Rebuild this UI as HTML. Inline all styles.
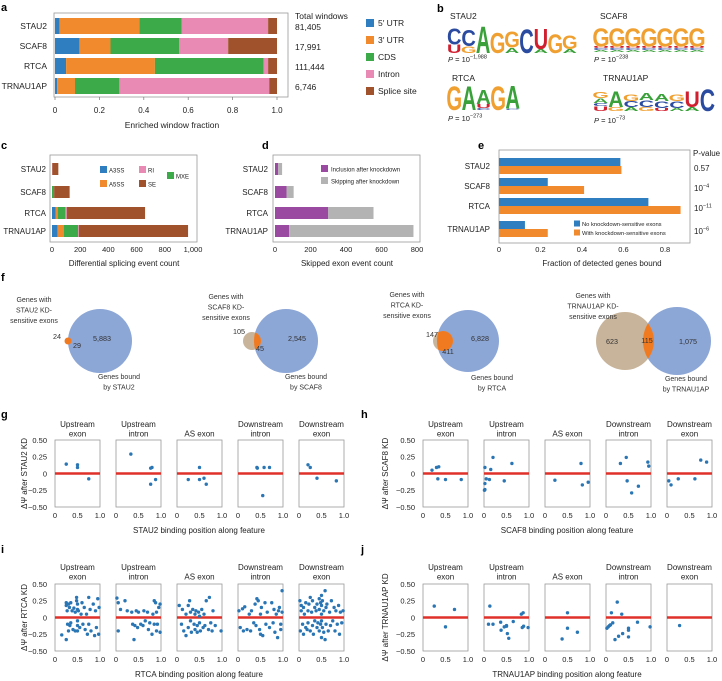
<!DOCTYPE html>
<html><head><meta charset="utf-8"><style>
body{margin:0;background:#fff;}
svg{display:block;font-family:"Liberation Sans",sans-serif;}
</style></head><body>
<svg id="fig" width="722" height="681" viewBox="0 0 722 681" xmlns="http://www.w3.org/2000/svg"></svg>
<script>
// ---------- DATA ----------
const cats=['STAU2','SCAF8','RTCA','TRNAU1AP'];
const aTotals=['81,405','17,991','111,444','6,746'];
const a5utr=[0.02,0.11,0.05,0.01];
const a3utr=[0.36,0.14,0.40,0.08];
const aCds=[0.19,0.31,0.49,0.20];
const aIntron=[0.39,0.22,0.02,0.675];
const aSplice=[0.04,0.22,0.04,0.035];
const aTicks=['0','0.2','0.4','0.6','0.8','1.0'];
const cA3ss=[0,0,25,40];
const cA5ss=[0,0,15,45];
const cMxe=[0,15,55,100];
const cRi=[2,0,10,5];
const cSe=[43,110,555,775];
const cTicks=[0,200,400,600,800,1000];
const dIncl=[18,65,300,80];
const dSkip=[22,40,255,700];
const dTicks=[0,200,400,600,800];
const eNo=[0.585,0.235,0.72,0.125];
const eWith=[0.59,0.41,0.875,0.235];
const eTicks=[0,0.2,0.4,0.6,0.8];
const ePvals=[['0.57',''],['10','−4'],['10','−11'],['10','−6']];
const gData=[
 [[0.25,0.14],[0.5,0.13],[0.5,0.09],[0.75,-0.08]],
 [[0.33,0.29],[0.77,0.08],[0.8,0.09],[0.77,-0.16],[0.88,-0.09]],
 [[0.25,-0.09],[0.5,0.09],[0.5,-0.09],[0.6,-0.07],[0.65,-0.16]],
 [[0.42,0.09],[0.43,0.08],[0.58,0.09],[0.7,0.09],[0.55,-0.33]],
 [[0.2,0.13],[0.25,0.09],[0.4,-0.07],[0.83,-0.11]]];
const hData=[
 [[0.2,0.05],[0.3,0.09],[0.35,0.1],[0.33,-0.08],[0.5,-0.09],[0.85,-0.09]],
 [[0.02,0.09],[0.02,-0.15],[0.02,-0.24],[0.01,-0.25],[0.05,-0.08],[0.12,-0.09],[0.15,0.06],[0.2,0.24],[0.45,-0.11],[0.62,0.15]],
 [[0.22,-0.1],[0.8,0.15],[0.83,-0.17],[0.96,-0.13]],
 [[0.32,0.15],[0.45,0.24],[0.47,-0.11],[0.57,-0.29],[0.72,-0.19],[0.93,0.17],[0.95,0.11]],
 [[0.04,-0.11],[0.09,-0.17],[0.25,-0.08],[0.62,-0.08],[0.75,0.2],[0.88,0.17]]];
const iData=[
 [[0.15,-0.26],[0.25,-0.33],[0.25,0.22],[0.25,0.18],[0.27,0.1],[0.28,-0.1],[0.3,0.2],[0.3,-0.2],[0.32,0.15],[0.33,-0.12],[0.35,0.22],[0.35,-0.08],[0.38,0.1],[0.4,-0.18],[0.42,0.14],[0.45,0.08],[0.45,-0.2],[0.48,0.3],[0.48,0.25],[0.5,0.2],[0.5,0.12],[0.5,-0.05],[0.5,-0.12],[0.5,-0.2],[0.52,0.1],[0.55,-0.15],[0.58,0.05],[0.6,0.22],[0.62,-0.1],[0.65,0.15],[0.67,-0.18],[0.7,0.05],[0.72,-0.25],[0.75,0.3],[0.75,-0.1],[0.78,0.12],[0.8,-0.2],[0.85,0.2],[0.88,-0.27],[0.9,0.1],[0.92,-0.15],[0.95,0.28],[0.97,-0.25],[0.98,0.15]],
 [[0.02,0.29],[0.05,0.22],[0.05,-0.2],[0.1,0.12],[0.2,0.25],[0.25,0.1],[0.35,0.08],[0.37,-0.1],[0.4,-0.33],[0.42,-0.12],[0.45,0.1],[0.48,-0.15],[0.5,0.08],[0.55,-0.1],[0.6,-0.12],[0.62,0.1],[0.65,-0.05],[0.7,0.08],[0.72,-0.18],[0.75,-0.08],[0.8,-0.25],[0.82,0.05],[0.85,0.25],[0.85,-0.1],[0.88,0.22],[0.9,0.08],[0.9,-0.2],[0.92,-0.1],[0.95,0.15],[0.98,0.2],[0.98,-0.22]],
 [[0.05,0.18],[0.1,-0.1],[0.12,0.12],[0.15,-0.2],[0.2,0.05],[0.2,-0.27],[0.25,0.18],[0.25,-0.15],[0.28,0.25],[0.3,0.08],[0.3,-0.05],[0.32,-0.22],[0.35,0.12],[0.38,-0.1],[0.4,0.05],[0.4,-0.18],[0.42,0.1],[0.45,-0.12],[0.45,-0.22],[0.48,0.08],[0.5,0.02],[0.5,-0.08],[0.52,-0.2],[0.55,0.12],[0.58,-0.15],[0.6,0.05],[0.62,-0.12],[0.65,0.25],[0.7,-0.18],[0.72,0.3],[0.75,-0.08],[0.78,-0.2],[0.8,0.1],[0.85,-0.12],[0.98,-0.2]],
 [[0.02,0.1],[0.05,-0.15],[0.1,0.13],[0.12,-0.2],[0.15,0.16],[0.2,-0.18],[0.25,0.05],[0.28,-0.2],[0.3,0.1],[0.35,-0.08],[0.38,0.2],[0.4,-0.12],[0.42,0.28],[0.45,0.25],[0.48,-0.18],[0.5,0.05],[0.5,-0.25],[0.52,0.15],[0.55,-0.27],[0.6,0.22],[0.62,-0.1],[0.65,0.08],[0.7,-0.15],[0.75,0.22],[0.78,-0.08],[0.8,0.12],[0.82,-0.22],[0.85,0.05],[0.88,-0.3],[0.9,0.1],[0.92,0.15],[0.95,-0.1],[0.98,0.4],[0.98,0.08],[0.95,-0.18]],
 [[0.02,0.25],[0.03,-0.2],[0.05,0.1],[0.05,0.18],[0.08,-0.1],[0.1,0.15],[0.1,-0.25],[0.12,0.05],[0.15,-0.15],[0.15,0.22],[0.18,-0.18],[0.2,0.1],[0.2,-0.08],[0.22,0.2],[0.25,-0.2],[0.25,0.3],[0.28,0.08],[0.3,-0.12],[0.3,0.25],[0.32,-0.25],[0.35,0.15],[0.35,-0.05],[0.38,0.1],[0.4,-0.15],[0.4,0.2],[0.42,-0.08],[0.45,0.28],[0.45,0.12],[0.45,-0.2],[0.48,0.22],[0.48,-0.1],[0.5,0.33],[0.5,0.18],[0.5,0.05],[0.5,-0.05],[0.5,-0.3],[0.52,0.25],[0.52,-0.15],[0.55,0.1],[0.55,-0.22],[0.58,0.4],[0.58,-0.33],[0.6,0.15],[0.6,-0.1],[0.62,0.2],[0.65,-0.2],[0.68,0.08],[0.7,-0.12],[0.72,0.25],[0.75,-0.05],[0.78,0.15],[0.8,-0.2],[0.82,0.1],[0.85,-0.1],[0.88,0.18],[0.9,-0.25],[0.92,0.08],[0.95,-0.08],[0.98,0.1]]];
const jData=[
 [[0.25,0.17],[0.7,0.12],[0.5,-0.14]],
 [[0.13,0.17],[0.1,-0.1],[0.2,-0.1],[0.37,-0.07],[0.38,-0.19],[0.45,-0.14],[0.5,-0.12],[0.52,-0.24],[0.55,-0.31],[0.65,-0.06],[0.5,-0.13],[0.83,0.05],[0.87,0.07],[0.85,-0.15],[0.88,-0.13],[0.98,-0.15]],
 [[0.5,0.07],[0.38,-0.32],[0.5,-0.16],[0.72,-0.22]],
 [[0.02,-0.16],[0.05,-0.14],[0.1,-0.11],[0.12,0.07],[0.15,-0.08],[0.2,-0.33],[0.25,0.23],[0.28,-0.28],[0.35,0.05],[0.37,-0.24],[0.5,-0.16],[0.5,-0.19],[0.5,-0.29],[0.7,-0.07],[0.98,-0.14],[0.08,-0.12]],
 [[0.28,-0.12]]];
const featTitles=[['Upstream','exon'],['Upstream','intron'],['','AS exon'],['Downstream','intron'],['Downstream','exon']];
const yTickVals=[0.5,0.25,0,-0.25,-0.5];
const yTickLabels=['0.50','0.25','0','−0.25','−0.50'];
const xTickVals=[0,0.5,1];
const xTickLabels=['0','0.5','1.0'];

// ---------- HELPERS ----------
const NS='http://www.w3.org/2000/svg';
const svg=document.getElementById('fig');
function mk(tag,attrs,parent){const e=document.createElementNS(NS,tag);for(const k in attrs)e.setAttribute(k,attrs[k]);(parent||svg).appendChild(e);return e;}
function T(x,y,s,size,anchor,extra){const e=mk('text',Object.assign({x:x,y:y,'font-size':size||8,'text-anchor':anchor||'start',fill:'#222'},extra||{}));e.textContent=s;return e;}
const C5='#2f7ec0',C3='#f08a2c',CG='#3caa48',CP='#e88ab4',CB='#a0522d';
let el;

// panel letters
[['a',1,11],['b',437,12],['c',1,149],['d',262,149],['e',478,149],['f',1,281],['g',1,418],['h',361,418],['i',1,553],['j',361,553]].forEach(p=>{
  el=T(p[1],p[2],p[0],11,'start',{'font-weight':'bold',fill:'#000'});
  
  
});

// ---------- PANEL A ----------
const xA=v=>55+v*222;
const aRowY=[26,46,66,86];
el=mk('rect',{x:54,y:13,width:234,height:84,fill:'none',stroke:'#9a9a9a','stroke-width':0.8});


const aSeries=[a5utr,a3utr,aCds,aIntron,aSplice];
const aColors=[C5,C3,CG,CP,CB];
const aNames=["5′ UTR","3′ UTR","CDS","Intron","Splice site"];
cats.forEach((c,i)=>{
  let cum=0;
  aSeries.forEach((s,k)=>{
    el=mk('rect',{x:xA(cum),y:aRowY[i]-8,width:Math.max(0,xA(cum+s[i])-xA(cum)),height:16,fill:aColors[k]});
    
    
    cum+=s[i];
  });
  el=T(47,aRowY[i]+3,c,8.5,'end');
  
  
  el=T(295,aRowY[i]+4,aTotals[i],8.5);
  
  
});
el=T(295,19,'Total windows',8.5);


aTicks.forEach(t=>{
  el=mk('line',{x1:xA(+t),x2:xA(+t),y1:97,y2:100,stroke:'#777','stroke-width':0.7});
  
  
  el=T(xA(+t),113,t,8,'middle');
  
  
});
el=T(172,128,'Enriched window fraction',8.5,'middle');


aNames.forEach((n,k)=>{
  const y=23+k*17;
  el=mk('rect',{x:366,y:y-4,width:8,height:8,fill:aColors[k]});
  
  
  el=T(378,y+3,n,8.5);
  
  
});

// ---------- PANEL B (logos) ----------
const LC={A:'#3aa13a',C:'#2a4ba0',G:'#f0a030',U:'#d02030'};
const stau2Logo=[[['U',.3],['C',.6]],[['G',.25],['C',.6]],[['A',1]],[['G',.75]],[['A',.2],['G',.6]],[['C',.9]],[['A',.15],['U',.75]],[['G',.7]],[['A',.15],['G',.5]]];
const scaf8Logo=Array.from({length:7},()=>[['A',.07],['C',.07],['U',.07],['G',.7]]);
const rtcaLogo=[[['G',.92]],[['A',.92]],[['C',.07],['U',.15],['A',.55]],[['G',.92]],[['C',.05],['A',.88]]];
const trnLogo=[[['U',.18],['C',.12],['A',.18],['G',.22]],[['G',.15],['A',.6]],[['A',.15],['C',.22],['G',.25]],[['G',.15],['C',.25],['A',.28]],[['U',.12],['C',.25],['A',.28]],[['A',.12],['C',.25],['G',.25]],[['A',.15],['U',.6]],[['C',.85]]];
function logo(cols,x0,x1,yb,H,name){
  const w=(x1-x0)/cols.length;
  cols.forEach((col,ci)=>{
    let y=yb;
    col.forEach(([L,f])=>{
      const h=f*H;
      const g=mk('g',{transform:`translate(${x0+ci*w+w/2},${y}) scale(${w/7.2},${h/7.3})`});
      
      
      el=T(0,0,L,10,'middle',{'font-weight':'bold',fill:LC[L]});
      g.appendChild(el);
      
      
      y-=h;
    });
  });
}
logo(stau2Logo,447,577,53,28,'stau2-logo');
logo(scaf8Logo,593,705,52,27,'scaf8-logo');
logo(rtcaLogo,447,520,110,27,'rtca-logo');
logo(trnLogo,593,715,111,27,'trnau1ap-logo');
[['STAU2',450,19],['SCAF8',600,19],['RTCA',452,81],['TRNAU1AP',603,81]].forEach(l=>{
  el=T(l[1],l[2],l[0],8.5);
  
  
});
function pText(x,y,exp,name){
  const t=T(x,y,'',7.5);
  
  
  t.innerHTML=`<tspan font-style="italic">P</tspan> = 10<tspan font-size="5.5" dy="-3.5">−${exp}</tspan>`;
}
pText(448,62,'1,988','b-stau2-pvalue');
pText(594,62,'238','b-scaf8-pvalue');
pText(448,121,'273','b-rtca-pvalue');
pText(594,123,'73','b-trnau1ap-pvalue');

// ---------- PANEL C ----------
const rowC=[169,192,213,231];
const xC=v=>52+v*0.141;
el=mk('rect',{x:50,y:155,width:147,height:87,fill:'none',stroke:'#9a9a9a','stroke-width':0.8});


const cSeries=[cA3ss,cA5ss,cMxe,cRi,cSe];
const cColors=[C5,C3,CG,CP,CB];
cats.forEach((c,i)=>{
  let cum=0;
  cSeries.forEach((s,k)=>{
    el=mk('rect',{x:xC(cum),y:rowC[i]-6,width:xC(cum+s[i])-xC(cum),height:12,fill:cColors[k]});
    
    
    cum+=s[i];
  });
  el=T(46,rowC[i]+3,c,8,'end');
  
  
});
cTicks.forEach(t=>{
  el=T(xC(t),252,t>=1000?'1,000':String(t),7.5,'middle');
  
  
});
el=T(124,266,'Differential splicing event count',8,'middle');


[['A3SS',100,170,C5],['RI',139,170,CP],['MXE',167,176,CG],['A5SS',100,184,C3],['SE',139,184,CB]].forEach(l=>{
  el=mk('rect',{x:l[1],y:l[2]-4,width:7,height:7,fill:l[3]});
  
  
  el=T(l[1]+9,l[2]+2.5,l[0],6);
  
  
});

// ---------- PANEL D ----------
const xD=v=>275+v*0.1775;
el=mk('rect',{x:273,y:155,width:147,height:87,fill:'none',stroke:'#9a9a9a','stroke-width':0.8});


cats.forEach((c,i)=>{
  el=mk('rect',{x:xD(0),y:rowC[i]-6,width:xD(dIncl[i])-xD(0),height:12,fill:'#9a4aa0'});
  
  
  el=mk('rect',{x:xD(dIncl[i]),y:rowC[i]-6,width:xD(dIncl[i]+dSkip[i])-xD(dIncl[i]),height:12,fill:'#b3b3b3'});
  
  
  el=T(268,rowC[i]+3,c,8,'end');
  
  
});
dTicks.forEach(t=>{
  el=T(xD(t),252,String(t),7.5,'middle');
  
  
});
el=T(347,266,'Skipped exon event count',8,'middle');


[['Inclusion after knockdown',169,'#9a4aa0'],['Skipping after knockdown',181,'#b3b3b3']].forEach(l=>{
  el=mk('rect',{x:321,y:l[1]-4,width:7,height:7,fill:l[2]});
  
  
  el=T(331,l[1]+2.5,l[0],6);
  
  
});

// ---------- PANEL E ----------
const xE=v=>499+v*207.5;
const rowE=[166,186,206,229];
el=mk('rect',{x:499,y:150,width:191,height:93,fill:'none',stroke:'#9a9a9a','stroke-width':0.8});


cats.forEach((c,i)=>{
  el=mk('rect',{x:xE(0),y:rowE[i]-8,width:xE(eNo[i])-xE(0),height:8,fill:C5});
  
  
  el=mk('rect',{x:xE(0),y:rowE[i],width:xE(eWith[i])-xE(0),height:8,fill:C3});
  
  
  el=T(490,rowE[i]+3,c,8,'end');
  
  
  const pv=T(694,rowE[i]+5,'',8);
  
  
  pv.innerHTML=ePvals[i][1]?`${ePvals[i][0]}<tspan font-size="5.5" dy="-3.5">${ePvals[i][1]}</tspan>`:ePvals[i][0];
});
el=T(693,156,'P-value',8);


eTicks.forEach(t=>{
  el=T(xE(t),252,String(t),7.5,'middle');
  
  
});
el=T(602,266,'Fraction of detected genes bound',8,'middle');


[['No knockdown-sensitive exons',224,C5],['With knockdown-sensitive exons',233,C3]].forEach(l=>{
  el=mk('rect',{x:574,y:l[1]-3.5,width:6,height:6,fill:l[2]});
  
  
  el=T(582,l[1]+2,l[0],5.8);
  
  
});

// ---------- PANEL F (Venn) ----------
const BLUE='#8ca6d6',TAN='#c8b49a',ORG='#f07a20';
function venn(o){
  el=mk('circle',{cx:o.bx,cy:341,r:o.br,fill:BLUE});
  
  
  el=mk('circle',{cx:o.tx,cy:341,r:o.tr,fill:o.tanFill});
  
  
  const id='clip-'+o.n;
  const cp=mk('clipPath',{id:id});
  mk('circle',{cx:o.bx,cy:341,r:o.br},cp);
  el=mk('circle',{cx:o.tx,cy:341,r:o.tr,fill:ORG,'clip-path':`url(#${id})`});
  
  
  o.labels.forEach(l=>{
    el=T(l[1],l[2],l[0],7.2,l[3]||'middle',{fill:'#333'});
    
    
  });
  o.top.forEach((s,k)=>{
    el=T(o.topX,o.topY+k*10.5,s,7,'middle',{fill:'#333'});
    
    
  });
  o.bot.forEach((s,k)=>{
    el=T(o.botX,o.botY+k*10.5,s,7,'middle',{fill:'#333'});
    
    
  });
}
venn({n:'stau2',bx:100,br:32,tx:68,tr:3.5,tanFill:ORG,labels:[['24',61,339,'end'],['29',77,348],['5,883',102,341]],top:['Genes with','STAU2 KD-','sensitive exons'],topX:34,topY:302,bot:['Genes bound','by STAU2'],botX:119,botY:379});
venn({n:'scaf8',bx:286,br:32,tx:252,tr:9,tanFill:TAN,labels:[['105',245,334,'end'],['45',260,351],['2,545',297,341]],top:['Genes with','SCAF8 KD-','sensitive exons'],topX:226,topY:299,bot:['Genes bound','by SCAF8'],botX:306,botY:379});
venn({n:'rtca',bx:468,br:31,tx:443,tr:10,tanFill:TAN,labels:[['147',438,337,'end'],['411',448,354],['6,828',480,341]],top:['Genes with','RTCA KD-','sensitive exons'],topX:407,topY:297,bot:['Genes bound','by RTCA'],botX:492,botY:380});
venn({n:'trnau1ap',bx:677,br:34,tx:625,tr:29,tanFill:TAN,labels:[['623',612,344],['115',647,343],['1,075',688,344]],top:['Genes with','TRNAU1AP KD-','sensitive exons'],topX:593,topY:298,bot:['Genes bound','by TRNAU1AP'],botX:686,botY:381});

// ---------- PANELS G-J (scatter) ----------
function scatter(o){
  const yS=v=>o.yMid-v*(o.yBot-o.yTop);
  o.data.forEach((pts,p)=>{
    const x0=o.x0+p*61;
    const xS=v=>x0+v*45;
    el=mk('rect',{x:x0,y:o.yTop,width:45,height:o.yBot-o.yTop,fill:'none',stroke:'#9a9a9a','stroke-width':0.8});
    
    
    featTitles[p].forEach((s,k)=>{
      if(!s)return;
      el=T(x0+22.5,o.titleY+k*9.5,s,8,'middle');
      
      
    });
    el=mk('line',{x1:x0,x2:x0+45,y1:yS(0),y2:yS(0),stroke:'#e0302a','stroke-width':2.6});
    
    
    pts.forEach(pt=>{
      el=mk('circle',{cx:xS(pt[0]),cy:yS(pt[1]),r:1.7,fill:'#2a76b4'});
      
      
    });
    xTickVals.forEach((v,k)=>{
      el=T(xS(v),o.yBot+11,xTickLabels[k],7.5,'middle');
      
      
    });
  });
  yTickVals.forEach((v,k)=>{
    el=T(o.x0-8,yS(v)+2.8,yTickLabels[k],7.5,'end');
    
    
  });
  const ym=(o.yTop+o.yBot)/2;
  el=T(o.ylx,ym,o.ylab,8,'middle',{transform:`rotate(-90 ${o.ylx} ${ym})`});
  
  
  el=T(o.x0+144,o.yBot+26,o.xlab,8,'middle');
  
  
}
scatter({n:'g',data:gData,x0:55,yTop:440,yBot:507,get yMid(){return (440+507)/2},titleY:427,ylx:27,ylab:'ΔΨ after STAU2 KD',xlab:'STAU2 binding position along feature'});
scatter({n:'h',data:hData,x0:423,yTop:440,yBot:507,get yMid(){return (440+507)/2},titleY:427,ylx:388,ylab:'ΔΨ after SCAF8 KD',xlab:'SCAF8 binding position along feature'});
scatter({n:'i',data:iData,x0:55,yTop:584,yBot:651,get yMid(){return (584+651)/2},titleY:570,ylx:27,ylab:'ΔΨ after RTCA KD',xlab:'RTCA binding position along feature'});
scatter({n:'j',data:jData,x0:423,yTop:584,yBot:651,get yMid(){return (584+651)/2},titleY:570,ylx:388,ylab:'ΔΨ after TRNAU1AP KD',xlab:'TRNAU1AP binding position along feature'});
</script>
</body></html>
